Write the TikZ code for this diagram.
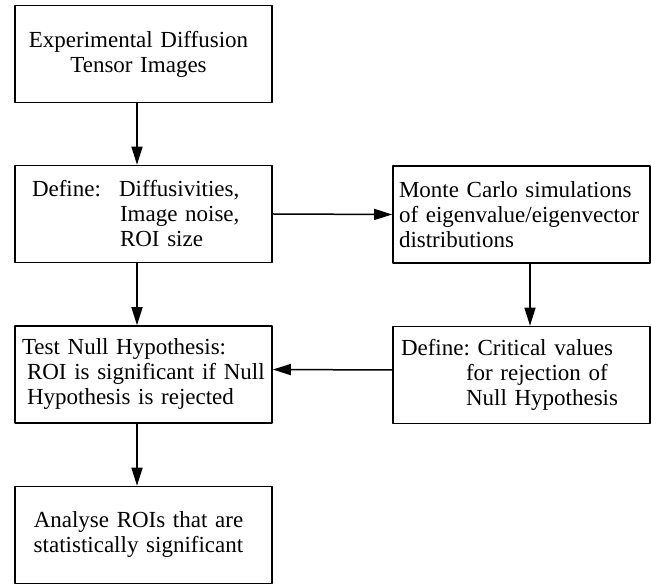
\documentclass[tikz,border=0pt]{standalone}
\usepackage{fontspec}
\setmainfont{Liberation Serif}
\usetikzlibrary{arrows.meta}
\begin{document}
\begin{tikzpicture}[>={Triangle[length=18bp,width=11bp]},line join=bevel,
  box/.style={draw,line width=1.6bp,minimum width=257bp,minimum height=97bp,inner sep=0pt,
    font=\fontsize{23bp}{25bp}\selectfont},
  flow/.style={->,line width=1.5bp}]
  \useasboundingbox (0bp,0bp) rectangle (651bp,584bp);
%%
  % Node: dti
  \node[box,text width=243bp,align=center] (dti) at (143.5bp,530bp)
    {\hspace*{-10bp}Experimental Diffusion\\\hspace*{-10bp}Tensor Images\\[3bp]};
  % Node: define
  \node[box,text width=223bp,align=left] (define) at (143.5bp,370bp)
    {\makebox[87bp][l]{Define:}Diffusivities,\\\hspace*{88bp}Image noise,\\\hspace*{88bp}ROI size};
  % Node: monte
  \node[box,text width=245bp,align=left] (monte) at (521.5bp,369.5bp)
    {Monte Carlo simulations\\of eigenvalue/eigenvector\\distributions};
  % Node: test
  \node[box,text width=243bp,align=left] (test) at (143.5bp,209.5bp)
    {Test Null Hypothesis:\\\hspace*{5bp}ROI is significant if Null\\\hspace*{5bp}Hypothesis is rejected};
  % Node: crit
  \node[box,text width=241bp,align=left] (crit) at (521.5bp,209bp)
    {Define:\ Critical values\\\hspace*{65bp}for rejection of\\\hspace*{65bp}Null Hypothesis};
  % Node: analyse
  \node[box,text width=243bp,align=center] (analyse) at (143.5bp,49bp)
    {\hspace*{-10bp}Analyse ROIs that are\\\hspace*{-10bp}statistically significant};
%
  % Edge: dti -> define
  \draw [flow] ([xshift=-6.5bp]dti.south) -- ([xshift=-6.5bp]define.north);
  % Edge: define -> monte
  \draw [flow] (define.east) -- (monte.west);
  % Edge: define -> test
  \draw [flow] ([xshift=-6.5bp]define.south) -- ([xshift=-6.5bp]test.north);
  % Edge: monte -> crit
  \draw [flow] ([xshift=8.5bp]monte.south) -- ([xshift=8.5bp]crit.north);
  % Edge: crit -> test
  \draw [flow] ([yshift=5bp]crit.west) -- ([yshift=5bp]test.east);
  % Edge: test -> analyse
  \draw [flow] ([xshift=-6.5bp]test.south) -- ([xshift=-6.5bp]analyse.north);
%
\end{tikzpicture}
\end{document}
